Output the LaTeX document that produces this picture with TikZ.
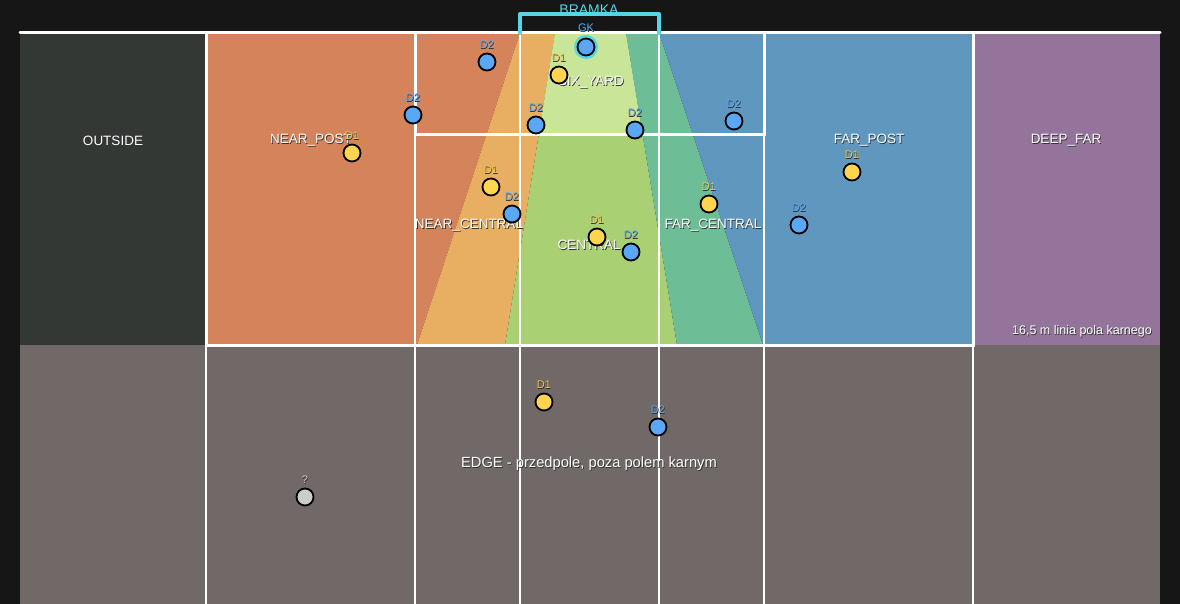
\documentclass[tikz,border=0pt]{standalone}
\usepackage{fontspec}
\setmainfont{Liberation Sans}
\definecolor{bgc}{HTML}{161616}
\definecolor{outc}{HTML}{343835}
\definecolor{nearpostc}{HTML}{D4835A}
\definecolor{nearcenc}{HTML}{E8AE62}
\definecolor{sixc}{HTML}{C9E597}
\definecolor{cenc}{HTML}{A9D072}
\definecolor{farcenc}{HTML}{6DBE96}
\definecolor{farpostc}{HTML}{6097BF}
\definecolor{deepc}{HTML}{94749A}
\definecolor{edgec}{HTML}{716868}
\definecolor{goalc}{HTML}{55D5E6}
\definecolor{bluep}{HTML}{5AA8F5}
\definecolor{yellowp}{HTML}{FFD54F}
\definecolor{ylab}{HTML}{F0C850}
\definecolor{greyp}{HTML}{CCCCCC}
\newcommand\shd[1]{\makebox[0pt][l]{\hspace{0.8pt}\raisebox{-0.8pt}{\color{black!80}#1}}#1}
\newcommand\shdsmall[1]{\makebox[0pt][l]{\hspace{0.5pt}\raisebox{-0.5pt}{\color{black!85}#1}}#1}
\tikzset{
  zonelabel/.style={text=white,font=\fontsize{13.5}{14}\selectfont,inner sep=0pt},
  thickline/.style={white,line width=3pt},
  thinline/.style={white,line width=1.3pt},
  plabel/.style={font=\fontsize{11}{11}\selectfont,inner sep=0pt,label distance=3pt},
  player/.style={circle,draw=black,line width=1.8pt,minimum size=17pt,inner sep=0pt},
  done/.style={player,fill=yellowp,label={[plabel,text=ylab]above:\shdsmall{D1}}},
  dtwo/.style={player,fill=bluep,label={[plabel,text=bluep]above:\shdsmall{D2}}},
  gk/.style={player,fill=bluep,label={[plabel,text=bluep,label distance=5pt]above:\shdsmall{GK}}},
  unk/.style={player,fill=greyp,label={[plabel,text=greyp]above:\shdsmall{?}}}
}
\begin{document}
\begin{tikzpicture}[x=1pt,y=-1pt]
\fill[bgc] (0,0) rectangle (1180,604);
\useasboundingbox (0,0) rectangle (1180,604);
\fill[outc] (20,33) rectangle (206,345);
\fill[deepc] (973,33) rectangle (1160,345);
\fill[edgec] (20,345) rectangle (1160,604);
\fill[nearpostc] (206,33) -- (520,33) -- (417,345) -- (206,345) -- cycle;
\fill[nearcenc] (520,33) -- (555,33) -- (505,345) -- (417,345) -- cycle;
\fill[cenc] (555,33) -- (626,33) -- (677,345) -- (505,345) -- cycle;
\fill[sixc] (555,33) -- (626,33) -- (642.7,135) -- (538.7,135) -- cycle;
\fill[farcenc] (626,33) -- (659,33) -- (763,345) -- (677,345) -- cycle;
\fill[farpostc] (659,33) -- (973,33) -- (973,345) -- (763,345) -- cycle;
\foreach \xx in {206,415,520,659,764,973} \draw[thinline] (\xx,33) -- (\xx,604);
\draw[thickline] (206,33) rectangle (973,345);
\draw[thickline] (415,33) rectangle (764,135);
\draw[thickline,line cap=round] (20,33) -- (1160,33);
\node[text=goalc,font=\fontsize{14}{14}\selectfont,inner sep=0pt] (bramka) at (589,10) {BRAMKA};
\draw[goalc,line width=4pt,line cap=round,line join=round] (520,33) -- (520,14) -- (659,14) -- (659,33);
\node[zonelabel] (outside) at (113,141) {\shd{OUTSIDE}};
\node[zonelabel] (nearpost) at (311,141) {\shd{NEAR\_POST}};
\node[zonelabel] (sixyard) at (591,83) {\shd{SIX\_YARD}};
\node[zonelabel] (farpost) at (869,141) {\shd{FAR\_POST}};
\node[zonelabel] (deepfar) at (1066,141) {\shd{DEEP\_FAR}};
\node[zonelabel] (nearcentral) at (469,226) {\shd{NEAR\_CENTRAL}};
\node[zonelabel] (central) at (589,245) {\shd{CENTRAL}};
\node[zonelabel] (farcentral) at (713,226) {\shd{FAR\_CENTRAL}};
\node[zonelabel,font=\fontsize{14.7}{15}\selectfont] (edge) at (589,464) {\shd{EDGE - przedpole, poza polem karnym}};
\node[text=white,font=\fontsize{12.5}{13}\selectfont,inner sep=0pt,anchor=east] (boxline) at (1152,332) {\shd{16,5 m linia pola karnego}};
\draw[goalc,line width=3pt] (586,47) circle (10.5);
\node[gk] (gk) at (586,47) {};
\node[dtwo] (p1) at (487,62) {};
\node[done] (p2) at (559,75) {};
\node[dtwo] (p3) at (413,115) {};
\node[dtwo] (p4) at (536,125) {};
\node[dtwo] (p5) at (635,130) {};
\node[dtwo] (p6) at (734,121) {};
\node[done] (p7) at (352,153) {};
\node[done] (p8) at (852,172) {};
\node[done] (p9) at (491,187) {};
\node[dtwo] (p10) at (512,214) {};
\node[done] (p11) at (709,204) {};
\node[dtwo] (p12) at (799,225) {};
\node[done] (p13) at (597,237) {};
\node[dtwo] (p14) at (631,252) {};
\node[done] (p15) at (544,402) {};
\node[dtwo] (p16) at (658,427) {};
\node[unk] (p17) at (305,497) {};
\end{tikzpicture}
\end{document}
